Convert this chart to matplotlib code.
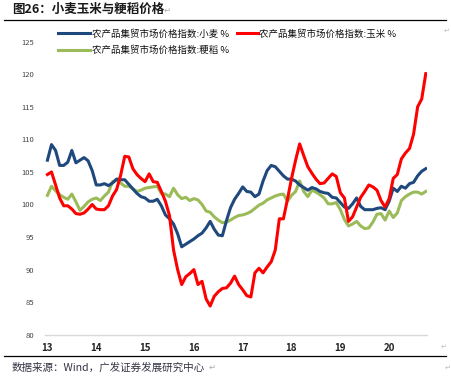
import matplotlib
matplotlib.use("Agg")
import matplotlib.pyplot as plt
from matplotlib.lines import Line2D
import numpy as np

plt.rcParams['font.family'] = ['Noto Sans CJK SC', 'DejaVu Sans']

year_labels = ['13', '14', '15', '16', '17', '18', '19', '20']

wheat = [106.8, 109.2, 108.3, 106.0, 106.0, 106.5, 108.3, 106.4, 106.8, 107.2,
         106.7, 105.2, 103.0, 103.0, 103.2, 102.9, 103.3, 103.9, 103.8, 103.8,
         103.1, 102.4, 101.7, 101.2, 101.0, 100.5, 100.5, 100.8, 99.8, 98.4,
         97.8, 97.0, 95.5, 93.5, 93.9, 94.3, 94.7, 95.2, 95.6, 96.4,
         97.4, 96.2, 95.3, 95.2, 97.5, 99.5, 100.8, 101.7, 102.7, 102.0,
         101.9, 101.2, 101.6, 103.6, 105.2, 106.0, 105.8, 105.1, 104.4, 103.9,
         103.9, 103.6, 103.0, 102.6, 102.2, 102.6, 102.4, 102.0, 101.8, 101.7,
         101.1, 101.0, 100.3, 99.6, 99.4, 100.1, 101.0, 99.7, 99.2, 99.2,
         99.2, 99.4, 99.5, 99.2, 100.5, 102.5, 102.0, 102.8, 102.5, 103.2,
         103.4, 104.4, 105.1, 105.5]

corn = [104.6, 105.0, 103.0, 101.0, 99.8, 99.8, 99.3, 98.6, 98.5, 98.7,
        99.3, 100.0, 99.3, 99.2, 99.2, 99.8, 101.3, 102.3, 104.5, 107.4,
        107.3, 105.5, 104.6, 104.0, 103.5, 104.7, 103.5, 103.4, 102.0, 100.5,
        98.3, 93.0, 90.0, 87.7, 88.9, 89.4, 90.0, 87.7, 88.2, 85.5,
        84.4, 85.9, 86.6, 87.1, 87.2, 87.9, 89.0, 87.7, 86.9, 86.0,
        85.8, 89.5, 90.2, 89.5, 90.4, 91.2, 93.0, 97.8, 97.8, 100.8,
        104.0, 106.8, 109.3, 107.5, 105.8, 104.8, 103.9, 103.2, 103.3, 104.0,
        104.7, 104.3, 101.8, 101.0, 97.4, 98.1, 99.6, 101.1, 102.0, 103.0,
        102.7, 102.2, 100.6, 99.6, 100.9, 104.0, 104.6, 107.0, 107.9, 108.6,
        110.8, 115.0, 116.2, 120.1]

rice = [101.4, 102.8, 102.1, 101.5, 101.1, 100.8, 101.6, 100.4, 99.1, 99.7,
        100.4, 100.8, 101.0, 100.6, 101.3, 101.9, 103.5, 103.7, 103.3, 102.8,
        102.8, 102.4, 102.0, 102.2, 102.5, 102.6, 102.7, 102.8, 101.7, 101.6,
        101.2, 102.5, 101.5, 100.9, 101.1, 100.6, 100.9, 100.7, 100.0, 99.0,
        98.8, 98.1, 97.6, 97.2, 97.3, 97.6, 98.0, 98.3, 98.4, 98.6,
        98.9, 99.4, 99.9, 100.2, 100.7, 101.0, 101.3, 101.5, 101.6, 100.5,
        101.4, 102.0, 103.6, 102.0, 101.2, 102.2, 101.9, 101.5, 101.0, 100.1,
        100.1, 100.3, 99.2, 97.7, 96.7, 97.0, 97.4, 96.7, 96.3, 96.4,
        97.3, 98.5, 98.6, 97.6, 99.0, 98.0, 98.7, 100.6, 101.2, 101.6,
        101.9, 101.9, 101.6, 102.0]

series_names = ['农产品集贸市场价格指数:小麦 %', '农产品集贸市场价格指数:玉米 %',
                '农产品集贸市场价格指数:粳稻 %']
colors = ['#1F497D', '#FF0000', '#9BBB59']

W, H = 451, 379
fig = plt.figure(figsize=(W / 100, H / 100), dpi=100)

ax = fig.add_axes([45 / W, 1 - 334.7 / H, (427 - 45) / W, (334.7 - 41.7) / H])
x = np.arange(len(wheat))
l1, = ax.plot(x, wheat, color=colors[0], lw=2.2, solid_joinstyle='round', zorder=3)
l2, = ax.plot(x, corn, color=colors[1], lw=2.2, solid_joinstyle='round', zorder=4)
l3, = ax.plot(x, rice, color=colors[2], lw=2.2, solid_joinstyle='round', zorder=2)

ax.set_ylim(80, 125)
ax.set_yticks(np.arange(80, 126, 5))
ax.set_xlim(-0.6, 93.3)
ax.set_xticks(np.arange(0, 85, 12))
ax.set_xticklabels(year_labels)
for s in ['top', 'right', 'left']:
    ax.spines[s].set_visible(False)
ax.spines['bottom'].set_color('#D9D9D9')
ax.spines['bottom'].set_linewidth(1.0)
ax.tick_params(axis='x', length=0, pad=6, labelsize=7, labelcolor='#222222')
ax.tick_params(axis='y', length=0, pad=8, labelsize=5.5, labelcolor='#444444')
for lab in ax.get_xticklabels():
    lab.set_fontweight('bold')
ax.patch.set_alpha(0)

leg_kw = dict(loc='upper left', frameon=False, fontsize=6.8, handletextpad=0.15,
              labelspacing=0.75, borderpad=0, borderaxespad=0)
leg1 = fig.legend([l1, l3], [series_names[0], series_names[2]],
                  bbox_to_anchor=(58 / W, 1 - 29 / H), handlelength=3.4, **leg_kw)
leg2 = fig.legend([l2], [series_names[1]],
                  bbox_to_anchor=(237 / W, 1 - 29 / H), handlelength=2.2, **leg_kw)
for lg in (leg1, leg2):
    for t in lg.get_texts():
        t.set_color('#111111')

# title and rules
fig.text(12 / W, 1 - 9.5 / H, '图26：小麦玉米与粳稻价格', fontsize=9, fontweight='bold',
         color='#1a1a1a', va='center', ha='left')
fig.text(164 / W, 1 - 10 / H, '↵', fontsize=6, color='#aaaaaa', va='center', ha='left')
fig.add_artist(Line2D([4 / W, 446 / W], [1 - 19.5 / H, 1 - 19.5 / H], color='black', lw=0.9))
fig.add_artist(Line2D([4 / W, 446 / W], [1 - 355.7 / H, 1 - 355.7 / H], color='black', lw=0.9))
fig.text(12 / W, 1 - 367.7 / H, '数据来源：Wind，广发证券发展研究中心', fontsize=7.6,
         color='#333344', va='center', ha='left')
fig.text(209 / W, 1 - 367.7 / H, '↵', fontsize=6, color='#aaaaaa', va='center', ha='left')
fig.text(447 / W, 1 - 31 / H, '↵', fontsize=5, color='#bbbbbb', va='center', ha='center')
fig.text(444 / W, 1 - 347 / H, '↵', fontsize=5, color='#bbbbbb', va='center', ha='center')
fig.text(448 / W, 1 - 368 / H, '↵', fontsize=5, color='#bbbbbb', va='center', ha='center')

fig.savefig('out.png', dpi=100)
